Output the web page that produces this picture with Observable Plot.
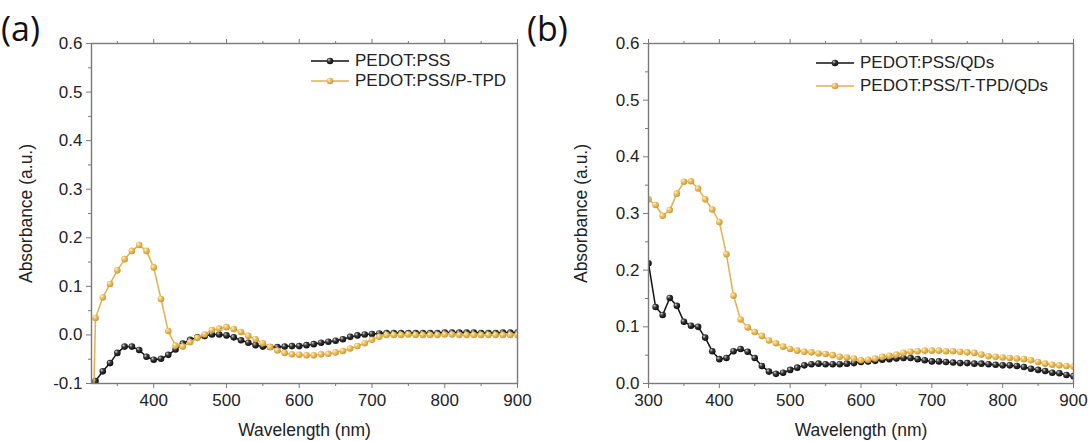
<!DOCTYPE html>
<html>
<head>
<meta charset="utf-8">
<script src="https://cdn.jsdelivr.net/npm/d3@7"></script>
<script src="https://cdn.jsdelivr.net/npm/@observablehq/plot@0.6"></script>
<style>
  body { margin: 0; background: #fff; }
  #fig { position: relative; width: 1091px; height: 441px; font-family: "Liberation Sans", Arial, sans-serif; color: #222; overflow: hidden; }
  .panel { position: absolute; top: 0; }
  .tag { position: absolute; top: 11px; font-family: "Open Sans", sans-serif; font-size: 34px; line-height: 1; color: #111; }
  .legend { position: absolute; font-size: 17px; color: #222; }
  .legend .row { position: absolute; left: 0; display: flex; align-items: center; white-space: nowrap; height: 20px; }
  .legend svg { display: block; margin-right: 6px; }
  g[aria-label$="axis label"] text { font-size: 17.5px; }
  g[aria-label$="tick label"] text { font-size: 17px; }
</style>
</head>
<body>
<svg width="0" height="0" style="position:absolute">
  <defs>
    <radialGradient id="ball-black" cx="0.4" cy="0.4" r="0.65" fx="0.32" fy="0.3">
      <stop offset="0" stop-color="#d8d8d8"/>
      <stop offset="0.4" stop-color="#3a3a3a"/>
      <stop offset="1" stop-color="#050505"/>
    </radialGradient>
    <radialGradient id="ball-gold" cx="0.4" cy="0.4" r="0.65" fx="0.32" fy="0.3">
      <stop offset="0" stop-color="#fff4d0"/>
      <stop offset="0.45" stop-color="#ecbf5a"/>
      <stop offset="1" stop-color="#c59333"/>
    </radialGradient>
  </defs>
</svg>
<div id="fig"></div>
<script>
// Wavelength grids (nm), sampled every 10 nm
const wavelengthA = d3.range(310, 901, 10);
const wavelengthB = d3.range(300, 901, 10);

// (a) absorbance of the hole-transport stacks
const pedotPss = [
  -0.200, -0.095, -0.075, -0.058, -0.037, -0.024, -0.024, -0.031, -0.045, -0.051,
  -0.049, -0.041, -0.030, -0.018, -0.010, -0.005, -0.002,  0.001,  0.001, -0.001,
  -0.005, -0.011, -0.016, -0.021, -0.024, -0.025, -0.025, -0.024, -0.023, -0.023,
  -0.021, -0.019, -0.016, -0.014, -0.012, -0.009, -0.004, -0.001,  0.001,  0.002,
   0.003,  0.004,  0.004,  0.004,  0.004,  0.004,  0.004,  0.004,  0.004,  0.005,
   0.005,  0.005,  0.005,  0.005,  0.004,  0.004,  0.004,  0.005,  0.005,  0.005
];
const pedotPssPTpd = [
  -0.600,  0.035,  0.077,  0.105,  0.133,  0.156,  0.173,  0.185,  0.173,  0.139,
   0.074,  0.008, -0.022, -0.024, -0.015, -0.006,  0.001,  0.010,  0.013,  0.016,
   0.012,  0.006, -0.002, -0.009, -0.017, -0.025, -0.032, -0.037, -0.040, -0.041,
  -0.042, -0.042, -0.040, -0.039, -0.036, -0.033, -0.028, -0.023, -0.017, -0.010,
  -0.004,  0.000,  0.000,  0.000,  0.001,  0.000,  0.000,  0.000,  0.000,  0.001,
   0.001,  0.000,  0.000,  0.000,  0.000,  0.000,  0.000,  0.000,  0.000,  0.000
];

// (b) absorbance with the quantum-dot layer on top
const pedotPssQds = [
   0.212,
   0.135,  0.121,  0.151,  0.137,  0.109,  0.102,  0.100,  0.081,  0.057,  0.043,
   0.045,  0.057,  0.061,  0.056,  0.045,  0.031,  0.021,  0.017,  0.019,  0.024,
   0.028,  0.032,  0.034,  0.035,  0.034,  0.034,  0.034,  0.035,  0.036,  0.038,
   0.039,  0.040,  0.042,  0.043,  0.044,  0.045,  0.045,  0.043,  0.041,  0.039,
   0.039,  0.038,  0.037,  0.036,  0.036,  0.035,  0.035,  0.034,  0.033,  0.032,
   0.032,  0.031,  0.029,  0.026,  0.024,  0.022,  0.019,  0.018,  0.015,  0.013
];
const pedotPssTTpdQds = [
   0.325,
   0.315,  0.296,  0.306,  0.335,  0.356,  0.357,  0.344,  0.325,  0.307,  0.285,
   0.228,  0.155,  0.113,  0.099,  0.091,  0.084,  0.076,  0.071,  0.065,  0.061,
   0.058,  0.056,  0.055,  0.053,  0.052,  0.050,  0.047,  0.046,  0.044,  0.041,
   0.042,  0.044,  0.047,  0.049,  0.051,  0.054,  0.056,  0.057,  0.058,  0.058,
   0.058,  0.057,  0.057,  0.056,  0.055,  0.054,  0.051,  0.048,  0.047,  0.046,
   0.045,  0.044,  0.043,  0.041,  0.038,  0.035,  0.033,  0.032,  0.031,  0.030
];

// Axis ticks
const xTicksA = [400, 500, 600, 700, 800, 900];
const xTicksB = [300, 400, 500, 600, 700, 800, 900];
const xMinorA = [350, 450, 550, 650, 750, 850];
const xMinorB = [350, 450, 550, 650, 750, 850];
const yTicksA = [-0.1, 0.0, 0.1, 0.2, 0.3, 0.4, 0.5, 0.6];
const yMinorA = [-0.05, 0.05, 0.15, 0.25, 0.35, 0.45, 0.55];
const yTicksB = [0.0, 0.1, 0.2, 0.3, 0.4, 0.5, 0.6];
const yMinorB = [0.05, 0.15, 0.25, 0.35, 0.45, 0.55];

const seriesA = [
  {name: "PEDOT:PSS", values: pedotPss, line: "#111", ball: "url(#ball-black)"},
  {name: "PEDOT:PSS/P-TPD", values: pedotPssPTpd, line: "#e2b14c", ball: "url(#ball-gold)"}
];
const seriesB = [
  {name: "PEDOT:PSS/QDs", values: pedotPssQds, line: "#111", ball: "url(#ball-black)"},
  {name: "PEDOT:PSS/T-TPD/QDs", values: pedotPssTTpdQds, line: "#e2b14c", ball: "url(#ball-gold)"}
];

const axisStroke = "#7a7a7a";
const textFill = "#222";

function spectrumPanel({wavelength, series, xDomain, xTicks, xMinor, yDomain, yTicks, yMinor, width, marginLeft, marginRight, yLabelOffset}) {
  const marks = [];
  for (const s of series) {
    const rows = wavelength.map((w, i) => ({w, a: s.values[i]}));
    marks.push(Plot.line(rows, {x: "w", y: "a", stroke: s.line, strokeWidth: 1.5, clip: true}));
    marks.push(Plot.dot(rows, {x: "w", y: "a", r: 3.3, fill: s.ball, clip: true}));
  }
  return Plot.plot({
    width, height: 441,
    marginLeft, marginRight, marginTop: 43, marginBottom: 58,
    style: {fontFamily: "'Liberation Sans', Arial, sans-serif", fontSize: "17px", color: textFill, background: "transparent", overflow: "visible"},
    x: {domain: xDomain},
    y: {domain: yDomain},
    marks: [
      Plot.axisX(xTicks, {anchor: "bottom", tickSize: 5, tickPadding: 5, stroke: axisStroke, fill: textFill,
        tickFormat: d => String(d), label: "Wavelength (nm)", labelAnchor: "center", labelArrow: "none", labelOffset: 52}),
      Plot.axisX(xMinor, {anchor: "bottom", tickSize: 3, stroke: axisStroke, fill: "none", label: null}),
      Plot.axisX(xTicks, {anchor: "top", tickSize: 5, stroke: axisStroke, fill: "none", label: null}),
      Plot.axisX(xMinor, {anchor: "top", tickSize: 3, stroke: axisStroke, fill: "none", label: null}),
      Plot.axisY(yTicks, {anchor: "left", tickSize: 5, tickPadding: 4, stroke: axisStroke, fill: textFill,
        tickFormat: d => d.toFixed(1), label: "Absorbance (a.u.)", labelAnchor: "center", labelArrow: "none", labelOffset: yLabelOffset}),
      Plot.axisY(yMinor, {anchor: "left", tickSize: 3, stroke: axisStroke, fill: "none", label: null}),
      ...marks,
      Plot.frame({stroke: axisStroke, strokeWidth: 1.4})
    ]
  });
}

function legend(series, left, top, rowGap) {
  const box = document.createElement("div");
  box.className = "legend";
  box.style.left = left + "px";
  box.style.top = top + "px";
  series.forEach((s, i) => {
    const row = document.createElement("div");
    row.className = "row";
    row.style.top = (i * rowGap) + "px";
    row.innerHTML =
      `<svg width="38" height="10"><line x1="0" x2="38" y1="5" y2="5" stroke="${s.line}" stroke-width="1.6"/>` +
      `<circle cx="19" cy="5" r="3.3" fill="${s.ball}"/></svg><span>${s.name}</span>`;
    box.appendChild(row);
  });
  return box;
}

const fig = document.getElementById("fig");

const panelA = document.createElement("div");
panelA.className = "panel";
panelA.style.left = "0px";
panelA.appendChild(spectrumPanel({
  wavelength: wavelengthA, series: seriesA,
  xDomain: [314.5, 900], xTicks: xTicksA, xMinor: xMinorA,
  yDomain: [-0.1, 0.6], yTicks: yTicksA, yMinor: yMinorA,
  width: 545, marginLeft: 91, marginRight: 28, yLabelOffset: 72
}));
fig.appendChild(panelA);

const panelB = document.createElement("div");
panelB.className = "panel";
panelB.style.left = "545px";
panelB.appendChild(spectrumPanel({
  wavelength: wavelengthB, series: seriesB,
  xDomain: [300, 900], xTicks: xTicksB, xMinor: xMinorB,
  yDomain: [0, 0.6], yTicks: yTicksB, yMinor: yMinorB,
  width: 546, marginLeft: 103, marginRight: 18, yLabelOffset: 74
}));
fig.appendChild(panelB);

fig.appendChild(legend(seriesA, 311, 51, 20));
fig.appendChild(legend(seriesB, 816, 53, 23));

for (const [text, left] of [["(a)", 1], ["(b)", 527]]) {
  const t = document.createElement("div");
  t.className = "tag";
  t.style.left = left + "px";
  t.textContent = text;
  fig.appendChild(t);
}
</script>
</body>
</html>
